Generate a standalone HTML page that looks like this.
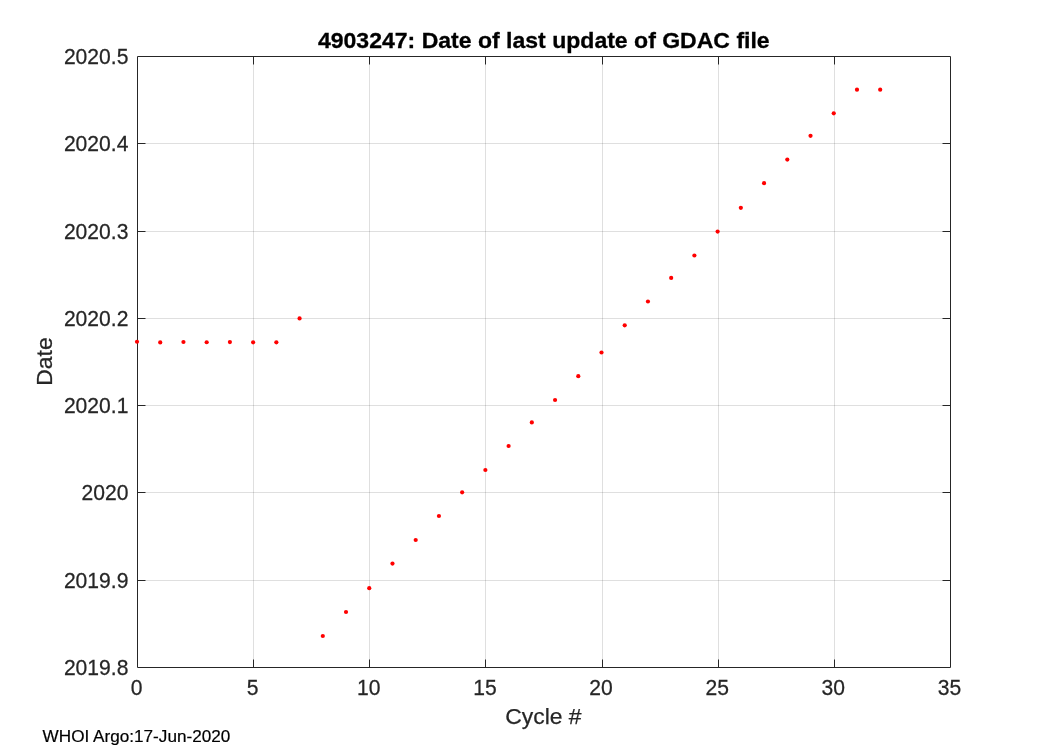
<!DOCTYPE html>
<html><head><meta charset="utf-8"><style>
html,body{margin:0;padding:0;background:#fff;width:1050px;height:750px;overflow:hidden}
svg{display:block}
text{font-family:"Liberation Sans",sans-serif}
.tk{font-size:21.1px;fill:#262626;stroke:#262626;stroke-width:0.25px}
.ti{font-size:23.05px;font-weight:bold;fill:#000;stroke:#000;stroke-width:0.3px}
.lb{font-size:22.917px;fill:#262626;stroke:#262626;stroke-width:0.25px}
.wh{font-size:17.15px;fill:#000;stroke:#000;stroke-width:0.2px}
.wrap{will-change:transform;width:1050px;height:750px}
</style></head><body><div class="wrap">
<svg width="1050" height="750" viewBox="0 0 1050 750">
<rect width="1050" height="750" fill="#fff"/>
<line x1="253.5" y1="57" x2="253.5" y2="667" stroke="#262626" stroke-opacity="0.15" stroke-width="1"/>
<line x1="369.5" y1="57" x2="369.5" y2="667" stroke="#262626" stroke-opacity="0.15" stroke-width="1"/>
<line x1="485.5" y1="57" x2="485.5" y2="667" stroke="#262626" stroke-opacity="0.15" stroke-width="1"/>
<line x1="602.5" y1="57" x2="602.5" y2="667" stroke="#262626" stroke-opacity="0.15" stroke-width="1"/>
<line x1="718.5" y1="57" x2="718.5" y2="667" stroke="#262626" stroke-opacity="0.15" stroke-width="1"/>
<line x1="834.5" y1="57" x2="834.5" y2="667" stroke="#262626" stroke-opacity="0.15" stroke-width="1"/>
<line x1="138" y1="143.5" x2="950" y2="143.5" stroke="#262626" stroke-opacity="0.15" stroke-width="1"/>
<line x1="138" y1="231.5" x2="950" y2="231.5" stroke="#262626" stroke-opacity="0.15" stroke-width="1"/>
<line x1="138" y1="318.5" x2="950" y2="318.5" stroke="#262626" stroke-opacity="0.15" stroke-width="1"/>
<line x1="138" y1="405.5" x2="950" y2="405.5" stroke="#262626" stroke-opacity="0.15" stroke-width="1"/>
<line x1="138" y1="492.5" x2="950" y2="492.5" stroke="#262626" stroke-opacity="0.15" stroke-width="1"/>
<line x1="138" y1="580.5" x2="950" y2="580.5" stroke="#262626" stroke-opacity="0.15" stroke-width="1"/>
<path d="M137.5 56.5H950.5V667.5H137.5Z" fill="none" stroke="#262626" stroke-width="1"/>
<line x1="253.5" y1="56.5" x2="253.5" y2="64.5" stroke="#262626"/>
<line x1="253.5" y1="667.5" x2="253.5" y2="659.5" stroke="#262626"/>
<line x1="369.5" y1="56.5" x2="369.5" y2="64.5" stroke="#262626"/>
<line x1="369.5" y1="667.5" x2="369.5" y2="659.5" stroke="#262626"/>
<line x1="485.5" y1="56.5" x2="485.5" y2="64.5" stroke="#262626"/>
<line x1="485.5" y1="667.5" x2="485.5" y2="659.5" stroke="#262626"/>
<line x1="602.5" y1="56.5" x2="602.5" y2="64.5" stroke="#262626"/>
<line x1="602.5" y1="667.5" x2="602.5" y2="659.5" stroke="#262626"/>
<line x1="718.5" y1="56.5" x2="718.5" y2="64.5" stroke="#262626"/>
<line x1="718.5" y1="667.5" x2="718.5" y2="659.5" stroke="#262626"/>
<line x1="834.5" y1="56.5" x2="834.5" y2="64.5" stroke="#262626"/>
<line x1="834.5" y1="667.5" x2="834.5" y2="659.5" stroke="#262626"/>
<line x1="137.5" y1="143.5" x2="145.5" y2="143.5" stroke="#262626"/>
<line x1="950.5" y1="143.5" x2="942.5" y2="143.5" stroke="#262626"/>
<line x1="137.5" y1="231.5" x2="145.5" y2="231.5" stroke="#262626"/>
<line x1="950.5" y1="231.5" x2="942.5" y2="231.5" stroke="#262626"/>
<line x1="137.5" y1="318.5" x2="145.5" y2="318.5" stroke="#262626"/>
<line x1="950.5" y1="318.5" x2="942.5" y2="318.5" stroke="#262626"/>
<line x1="137.5" y1="405.5" x2="145.5" y2="405.5" stroke="#262626"/>
<line x1="950.5" y1="405.5" x2="942.5" y2="405.5" stroke="#262626"/>
<line x1="137.5" y1="492.5" x2="145.5" y2="492.5" stroke="#262626"/>
<line x1="950.5" y1="492.5" x2="942.5" y2="492.5" stroke="#262626"/>
<line x1="137.5" y1="580.5" x2="145.5" y2="580.5" stroke="#262626"/>
<line x1="950.5" y1="580.5" x2="942.5" y2="580.5" stroke="#262626"/>
<circle cx="137.00" cy="341.74" r="2.1" fill="#ff0000"/>
<circle cx="160.22" cy="342.43" r="2.1" fill="#ff0000"/>
<circle cx="183.45" cy="342.0" r="2.1" fill="#ff0000"/>
<circle cx="206.68" cy="342.26" r="2.1" fill="#ff0000"/>
<circle cx="229.90" cy="342.11" r="2.1" fill="#ff0000"/>
<circle cx="253.12" cy="342.28" r="2.1" fill="#ff0000"/>
<circle cx="276.35" cy="342.28" r="2.1" fill="#ff0000"/>
<circle cx="299.58" cy="318.46" r="2.1" fill="#ff0000"/>
<circle cx="322.80" cy="636.0" r="2.1" fill="#ff0000"/>
<circle cx="346.02" cy="612.0" r="2.1" fill="#ff0000"/>
<circle cx="369.25" cy="588.2" r="2.1" fill="#ff0000"/>
<circle cx="392.48" cy="563.6" r="2.1" fill="#ff0000"/>
<circle cx="415.70" cy="540.0" r="2.1" fill="#ff0000"/>
<circle cx="438.93" cy="516.0" r="2.1" fill="#ff0000"/>
<circle cx="462.15" cy="492.3" r="2.1" fill="#ff0000"/>
<circle cx="485.38" cy="470.0" r="2.1" fill="#ff0000"/>
<circle cx="508.60" cy="446.0" r="2.1" fill="#ff0000"/>
<circle cx="531.83" cy="422.4" r="2.1" fill="#ff0000"/>
<circle cx="555.05" cy="400.0" r="2.1" fill="#ff0000"/>
<circle cx="578.28" cy="376.2" r="2.1" fill="#ff0000"/>
<circle cx="601.50" cy="352.5" r="2.1" fill="#ff0000"/>
<circle cx="624.73" cy="325.3" r="2.1" fill="#ff0000"/>
<circle cx="647.95" cy="301.5" r="2.1" fill="#ff0000"/>
<circle cx="671.18" cy="277.9" r="2.1" fill="#ff0000"/>
<circle cx="694.40" cy="255.5" r="2.1" fill="#ff0000"/>
<circle cx="717.62" cy="231.6" r="2.1" fill="#ff0000"/>
<circle cx="740.85" cy="207.8" r="2.1" fill="#ff0000"/>
<circle cx="764.08" cy="183.13" r="2.1" fill="#ff0000"/>
<circle cx="787.30" cy="159.53" r="2.1" fill="#ff0000"/>
<circle cx="810.53" cy="135.8" r="2.1" fill="#ff0000"/>
<circle cx="833.75" cy="113.32" r="2.1" fill="#ff0000"/>
<circle cx="856.98" cy="89.63" r="2.1" fill="#ff0000"/>
<circle cx="880.20" cy="89.63" r="2.1" fill="#ff0000"/>
<text transform="translate(128.40 63.80) scale(1 1.06)" text-anchor="end" class="tk">2020.5</text>
<text transform="translate(128.40 150.80) scale(1 1.06)" text-anchor="end" class="tk">2020.4</text>
<text transform="translate(128.40 238.80) scale(1 1.06)" text-anchor="end" class="tk">2020.3</text>
<text transform="translate(128.40 325.80) scale(1 1.06)" text-anchor="end" class="tk">2020.2</text>
<text transform="translate(128.40 412.80) scale(1 1.06)" text-anchor="end" class="tk">2020.1</text>
<text transform="translate(128.40 499.80) scale(1 1.06)" text-anchor="end" class="tk">2020</text>
<text transform="translate(128.40 587.80) scale(1 1.06)" text-anchor="end" class="tk">2019.9</text>
<text transform="translate(128.40 674.80) scale(1 1.06)" text-anchor="end" class="tk">2019.8</text>
<text transform="translate(136.60 695.00) scale(1 1.06)" text-anchor="middle" class="tk">0</text>
<text transform="translate(252.72 695.00) scale(1 1.06)" text-anchor="middle" class="tk">5</text>
<text transform="translate(368.85 695.00) scale(1 1.06)" text-anchor="middle" class="tk">10</text>
<text transform="translate(484.98 695.00) scale(1 1.06)" text-anchor="middle" class="tk">15</text>
<text transform="translate(601.10 695.00) scale(1 1.06)" text-anchor="middle" class="tk">20</text>
<text transform="translate(717.23 695.00) scale(1 1.06)" text-anchor="middle" class="tk">25</text>
<text transform="translate(833.35 695.00) scale(1 1.06)" text-anchor="middle" class="tk">30</text>
<text transform="translate(949.48 695.00) scale(1 1.06)" text-anchor="middle" class="tk">35</text>
<text transform="translate(543.80 47.90) scale(1 0.955)" text-anchor="middle" class="ti">4903247: Date of last update of GDAC file</text>
<text transform="translate(543.40 723.80) scale(1 1.0)" text-anchor="middle" class="lb">Cycle #</text>
<text transform="translate(52.10 361.50) rotate(-90) scale(1 1.0)" text-anchor="middle" class="lb">Date</text>
<text transform="translate(42.60 741.60) scale(1 1.0)" text-anchor="start" class="wh">WHOI Argo:17-Jun-2020</text>
</svg></div>
</body></html>
